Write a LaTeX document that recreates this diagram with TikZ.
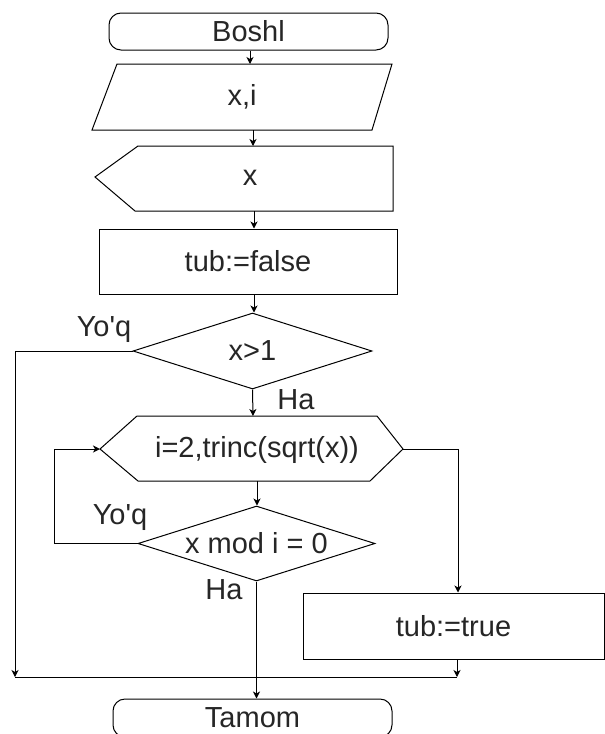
\documentclass[tikz,border=0pt]{standalone}
\usepackage{fontspec}
\setmainfont{Liberation Sans}[Ligatures=TeXOff]
\usetikzlibrary{shapes.geometric,arrows.meta}

\begin{document}
\begin{tikzpicture}[x=1pt,y=-1pt,line width=1pt,
  every node/.style={font=\fontsize{29}{34}\selectfont,inner sep=0pt,text=black!85},
  arr/.style={-{Stealth[length=7pt,width=7pt,inset=2pt]}},
  term/.style={draw,rectangle,rounded corners=12pt,minimum width=279pt,minimum height=37pt},
  proc/.style={draw,rectangle,minimum height=65pt},
  dec/.style={draw,diamond,aspect=3.2,minimum height=75pt}]

% page
\fill[white] (0,0) rectangle (605,734);
\useasboundingbox (0,0) rectangle (605,734);

% start
\node[term] (start) at (248.5,31.5) {Boshl};

% input (parallelogram)
\draw (117,64) -- (392,64) -- (372,130) -- (92,130) -- cycle;
\coordinate (in-n) at (250,64);
\coordinate (in-s) at (253,130);
\node (inp) at (242,97) {x,i};

% output (display shape)
\draw (138,146) -- (393,146) -- (393,211) -- (135,211) -- (95,177) -- cycle;
\coordinate (out-n) at (253,146);
\coordinate (out-s) at (254,211);
\node (outp) at (250,178) {x};

% assignment
\node[proc,minimum width=298pt] (false) at (248,261.5) {tub:=false};

% first decision
\node[dec,minimum width=239pt,minimum height=76pt] (c1) at (252.5,351) {x>1};
\node (no1) at (104,330) {Yo'q};
\node (yes1) at (296,400) {Ha};

% loop header (hexagon)
\draw (137,416) -- (377,416) -- (403,449) -- (370,481) -- (138,481) -- (100,449) -- cycle;
\coordinate (hx-n) at (253,416);
\coordinate (hx-s) at (257,481);
\coordinate (hx-w) at (100,449);
\coordinate (hx-e) at (403,449);
\node (loop) at (257,450) {i=2,trinc(sqrt(x))};

% second decision
\node[dec,minimum width=237pt] (c2) at (256.5,543.5) {x mod i = 0};
\node (no2) at (120,518) {Yo'q};
\node (yes2) at (224,590) {Ha};

% tub:=true
\node[proc,minimum width=301pt,minimum height=66pt] (true) at (453.5,626) {tub:=true};

% end
\node[term,minimum height=38pt] (fin) at (252.5,718) {Tamom};

% join points
\coordinate (rv) at (458,449);
\coordinate (jl) at (15,677);
\coordinate (jr) at (457,677);

% connectors
\draw[arr] (start.south -| in-n) -- (in-n);
\draw[arr] (in-s) -- (out-n);
\draw[arr] (out-s) -- (out-s |- false.north);
\draw[arr] (false.south -| out-s) -- (c1.north -| out-s);
\draw[arr] (c1.south) -- (hx-n);
\draw[arr] (c1.west) -- (jl |- c1.west) -- (jl);
\draw[arr] (hx-s) -- (hx-s |- c2.north);
\draw[arr] (c2.west) -- ++(-83,0) |- (hx-w);
\draw[arr] (hx-e) -- (rv) -- (rv |- true.north);
\draw[arr] (true.south -| jr) -- (jr);
\draw (jl) -- (jr);
\draw[arr] (c2.south) -- (c2.south |- fin.north);
\end{tikzpicture}
\end{document}
